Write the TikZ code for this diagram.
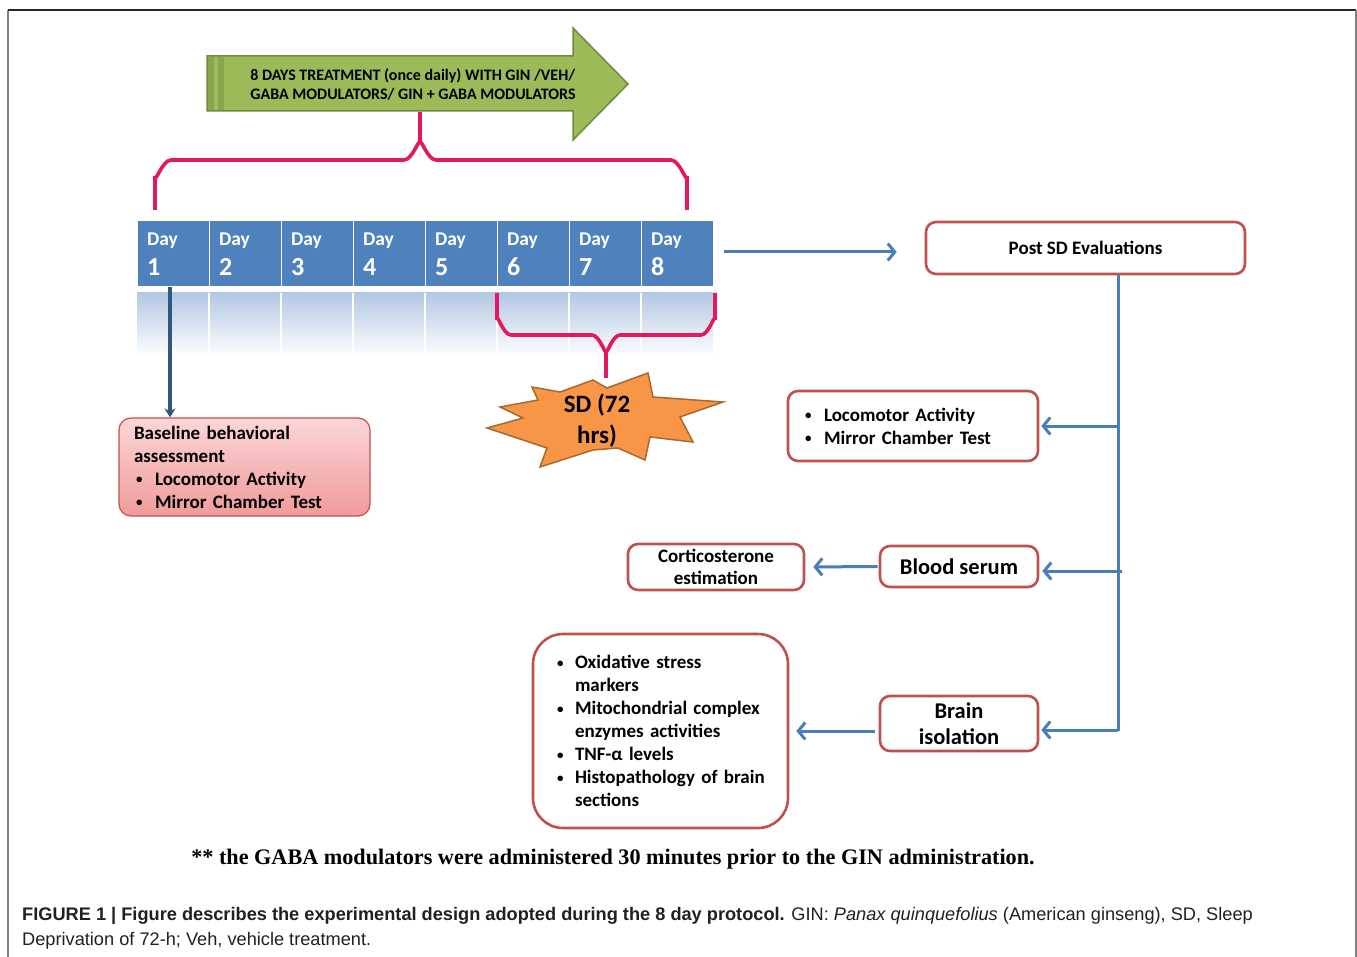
\documentclass[tikz,border=0pt]{standalone}
\usepackage{fontspec}
\setmainfont{Carlito}
\newfontfamily\capfont{Liberation Sans}
\newfontfamily\tmsfont{Liberation Serif}
\usetikzlibrary{arrows.meta}
\definecolor{gfill}{HTML}{9BBB59}
\definecolor{gdraw}{HTML}{71893F}
\definecolor{gdark}{HTML}{86A64B}
\definecolor{dayblue}{HTML}{4F81BD}
\definecolor{reflA}{HTML}{B3C8E3}
\definecolor{boxred}{HTML}{C0504D}
\definecolor{arrblue}{HTML}{4A7EBB}
\definecolor{darkarr}{HTML}{34557F}
\definecolor{magen}{HTML}{E5175E}
\definecolor{starfill}{HTML}{F79646}
\definecolor{stardraw}{HTML}{A8682F}
\definecolor{pinkA}{HTML}{FBD6D6}
\definecolor{pinkB}{HTML}{F09B9B}
\definecolor{capgray}{HTML}{231F20}
\newcommand\mybul[1]{\makebox[#1][l]{\raisebox{1.5pt}{\fontsize{13}{13}\selectfont•}}}
\begin{document}
\begin{tikzpicture}[x=1pt,y=-1pt,
  redbox/.style={draw=boxred, line width=2.6pt, rounded corners=10pt, fill=white, inner sep=0pt,
    font=\fontsize{19}{23}\selectfont\bfseries},
  daycell/.style={fill=dayblue, draw=white, line width=1pt, minimum width=72pt, minimum height=66pt,
    inner sep=0pt, text width=52pt, align=left, text=white, font=\fontsize{19.5}{30}\selectfont\bfseries},
  barrow/.style={draw=arrblue, line width=3pt, -{Straight Barb[length=7pt,width=17pt,line width=3pt]}},
  darrowst/.style={draw=darkarr, line width=4pt, -{Stealth[length=9pt,width=11pt]}},
  bracket/.style={draw=magen, line width=3.6pt}
]
\useasboundingbox (0,0) rectangle (1357,957);
% frame
\draw[gray, line width=1.5pt] (8,957) -- (8,10);
\draw[black!85, line width=1.2pt] (8,10) -- (1356,10);
\draw[gray, line width=1.5pt] (1356,10) -- (1356,957);

% green arrow
\filldraw[fill=gfill, draw=gdraw, line width=1.5pt]
  (207,56) -- (573,56) -- (573,28) -- (628,84) -- (573,140) -- (573,111) -- (207,111) -- cycle;
\fill[gdark] (208,57) rectangle (214,110);
\fill[gdark] (218,57) rectangle (224,110);
\node[font=\fontsize{16}{19}\selectfont\bfseries, align=left] (gtext) at (413,84)
  {8 DAYS TREATMENT (once daily) WITH GIN /VEH/\\GABA MODULATORS/ GIN + GABA MODULATORS};

% top bracket
\draw[bracket] (155,210) -- (155,176) to[out=-90,in=180] (171,160) -- (404,160) to[out=0,in=90] (420,144) -- (420,112);
\draw[bracket] (687,210) -- (687,176) to[out=-90,in=0] (671,160) -- (436,160) to[out=180,in=90] (420,144);

% reflection
\shade[top color=reflA, bottom color=white] (137,293) rectangle (713,357);
\foreach \xx in {209,281,353,425,497,569,641}
  \draw[white, line width=1.5pt] (\xx,293) -- (\xx,357);

% day cells
\foreach \i in {1,...,8}
  \node[daycell] (d\i) at ({173+72*(\i-1)},254) {Day\\{\fontsize{26}{30}\selectfont \i}};

% bottom bracket
\draw[bracket] (497,293) -- (497,320) to[out=90,in=180] (511,335) -- (592,335) to[out=0,in=-90] (606,350) -- (606,378);
\draw[bracket] (715,293) -- (715,320) to[out=90,in=0] (701,335) -- (620,335) to[out=180,in=-90] (606,350);

% starburst
\filldraw[fill=starfill, draw=stardraw, line width=1.5pt]
  (648,373) -- (653,397) -- (723,402) -- (680,417) -- (693,442) -- (650,437) -- (645,460) --
  (618,448) -- (593,450) -- (540,467) -- (547,448) -- (487,428) -- (523,418) -- (500,407) --
  (538,400) -- (532,387) -- (560,392) -- (593,380) -- (607,388) -- cycle;
\node[font=\fontsize{25}{31}\selectfont\bfseries, align=center] (sd) at (597,421) {SD (72\\hrs)};

% baseline box
\node[draw=boxred, line width=1.2pt, rounded corners=12pt, top color=pinkA, bottom color=pinkB,
  minimum width=251pt, minimum height=98pt, inner sep=0pt, text width=221pt, align=left,
  font=\fontsize{19}{23}\selectfont\bfseries] (base) at (244.5,467)
  {Baseline behavioral\\assessment\\\hspace*{2pt}\mybul{19pt}Locomotor Activity\\\hspace*{2pt}\mybul{19pt}Mirror Chamber Test};
\draw[darrowst] (d1.south -| 170,0) -- (base.north -| 170,0);

% right side
\node[redbox, minimum width=319pt, minimum height=52pt] (post) at (1085.5,248) {Post SD Evaluations};
\draw[barrow, shorten <=10pt, shorten >=28pt] (d8.east |- 0,252) -- (post.west |- 0,252);

\node[redbox, minimum width=250pt, minimum height=70pt, text width=216pt, align=left] (loco) at (913,426)
  {\mybul{19pt}Locomotor Activity\\\mybul{19pt}Mirror Chamber Test};
\node[redbox, minimum width=158pt, minimum height=41pt, font=\fontsize{22.5}{26}\selectfont\bfseries] (blood) at (959,566.5) {Blood serum};
\node[redbox, minimum width=176pt, minimum height=46pt, align=center, font=\fontsize{19}{22}\selectfont\bfseries] (cort) at (716,567) {Corticosterone\\estimation};
\node[redbox, minimum width=158pt, minimum height=55pt, align=center, font=\fontsize{22.5}{26}\selectfont\bfseries] (brain) at (959,723.5) {Brain\\isolation};
\node[redbox, rounded corners=30pt, minimum width=255pt, minimum height=194pt, text width=207pt, align=left] (big) at (660.5,731)
  {\mybul{18pt}Oxidative stress\\\hspace*{18pt}markers\\\mybul{18pt}Mitochondrial complex\\\hspace*{18pt}enzymes activities\\\mybul{18pt}TNF-α levels\\\mbox{\mybul{18pt}Histopathology of brain}\\\hspace*{18pt}sections};

\coordinate (vb) at (1118,731);
\draw[draw=arrblue, line width=3pt] (post.south -| vb) -- (vb);
\draw[barrow, shorten >=2pt] (vb |- loco.east) -- (loco.east);
\draw[barrow, shorten >=3pt] (1122,571) -- (blood.east |- 0,571);
\draw[barrow, shorten >=2pt] (vb |- 0,730) -- (brain.east |- 0,730);
\draw[barrow, shorten <=1pt, shorten >=8pt] (blood.west) -- (cort.east);
\draw[barrow, shorten <=4pt, shorten >=7pt] (brain.west |- big.east) -- (big.east);

% footnote
\node[font=\tmsfont\bfseries\fontsize{22.2}{25}\selectfont] (foot) at (613,859)
  {** the GABA modulators were administered 30 minutes prior to the GIN administration.};

% caption
\node[anchor=base west, inner sep=0pt, text=capgray, font=\capfont\fontsize{18.2}{25}\selectfont] (cap1) at (22,920)
  {\textbf{FIGURE 1 | Figure describes the experimental design adopted during the 8 day protocol.} GIN: \textit{Panax quinquefolius} (American ginseng), SD, Sleep};
\node[anchor=base west, inner sep=0pt, text=capgray, font=\capfont\fontsize{18.2}{25}\selectfont] (cap2) at (22,945)
  {Deprivation of 72-h; Veh, vehicle treatment.};
\end{tikzpicture}
\end{document}
